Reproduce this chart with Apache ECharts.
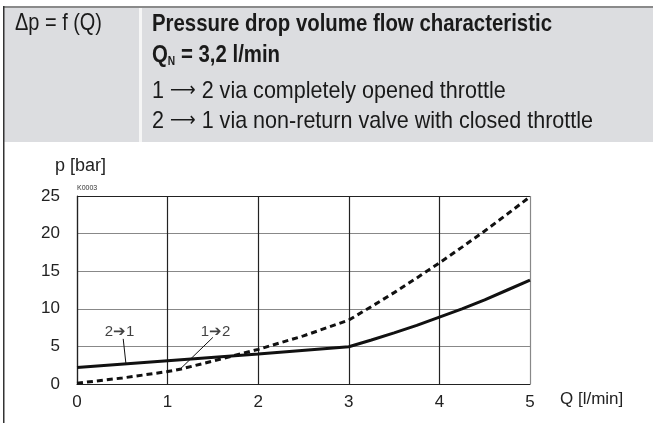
<!DOCTYPE html>
<html>
<head>
<meta charset="utf-8">
<script src="https://cdn.jsdelivr.net/npm/echarts@6/dist/echarts.min.js"></script>
<style>
  html, body { margin: 0; padding: 0; background: #fff; }
  #chart { width: 653px; height: 423px; }
</style>
</head>
<body>
<div id="chart"></div>
<script>
// 2 -> 1 via non-return valve (solid)
var qSolid = [0, 1, 2, 3, 3.25, 3.5, 3.75, 4, 4.25, 4.5, 4.75, 5];
var pSolid = [2.2, 3.1, 4.0, 4.95, 5.85, 6.8, 7.8, 8.9, 10.0, 11.2, 12.5, 13.8];
// 1 -> 2 via opened throttle (dashed)
var qDashed = [0, 0.5, 1, 1.15, 1.5, 2, 2.5, 3, 3.25, 3.5, 3.75, 4, 4.25, 4.5, 4.75, 5];
var pDashed = [0.1, 0.8, 1.65, 2.0, 3.05, 4.6, 6.4, 8.5, 10.3, 12.15, 14.1, 16.1, 18.2, 20.35, 22.6, 24.9];

var xTicks = [0, 1, 2, 3, 4, 5];
var yTicks = [0, 5, 10, 15, 20, 25];

// curve labels and their leader lines
var labelNames = ['2\u27941', '1\u27942'];
var labelPos = [[0.47, 6.9], [1.53, 6.9]];
var leaderFrom = [[0.51, 6.0], [1.50, 6.2]];
var leaderTo = [[0.54, 2.7], [1.14, 2.0]];

var headerLeft = '\u0394p = f (Q)';
var headerTitle = 'Pressure drop volume flow characteristic';
var headerQn = '{b|Q}{sub|N}{b| = 3,2 l/min}';
var header12 = ['1 ', '\u27f6', ' 2 via completely opened throttle'];
var header21 = ['2 ', '\u27f6', ' 1 via non-return valve with closed throttle'];

var arial = '"Liberation Sans", Arial, sans-serif';
var regFont = '24px ' + arial;
var boldFont = 'bold 24px ' + arial;
var arrowFont = '20px "DejaVu Sans", sans-serif';

// the header uses a condensed face; squeeze a normal one to the same width
var ctx = document.createElement('canvas').getContext('2d');
function textWidth(t, font) {
    ctx.font = font;
    return ctx.measureText(t).width;
}
var w21 = textWidth(header21[0], regFont) + textWidth(header21[1], arrowFont) + textWidth(header21[2], regFont);
var regScale = 441 / w21;
var boldScale = 400 / textWidth(headerTitle, boldFont);
var leftScale = 87 / textWidth(headerLeft, regFont);

function arrowLine(parts) {
    return parts[0] + '{a|' + parts[1] + '}' + parts[2];
}

function zip(a, b) {
    var out = [];
    for (var i = 0; i < a.length; i++) out.push([a[i], b[i]]);
    return out;
}

var chart = echarts.init(document.getElementById('chart'));

var series = [
    {
        name: '2-1',
        type: 'line',
        data: zip(qSolid, pSolid),
        showSymbol: false,
        lineStyle: { color: '#111', width: 3 },
        z: 5
    },
    {
        name: '1-2',
        type: 'line',
        data: zip(qDashed, pDashed),
        showSymbol: false,
        lineStyle: { color: '#111', width: 3, type: [6, 4] },
        z: 5
    },
    {
        name: 'labels',
        type: 'scatter',
        symbolSize: 0,
        data: labelPos.map(function (p, i) {
            return { value: p, label: { formatter: labelNames[i] } };
        }),
        label: {
            show: true,
            position: 'inside',
            color: '#111',
            fontFamily: arial,
            fontSize: 15
        },
        z: 6
    }
];

for (var i = 0; i < leaderFrom.length; i++) {
    series.push({
        type: 'line',
        data: [leaderFrom[i], leaderTo[i]],
        showSymbol: false,
        lineStyle: { color: '#111', width: 1 },
        z: 6
    });
}

var arrowRich = {
    a: { font: arrowFont, fill: '#1a1a1a', verticalAlign: 'middle' }
};

var option = {
    animation: false,
    backgroundColor: '#fff',
    grid: { left: 77, right: 123, top: 196, bottom: 39 },
    xAxis: {
        type: 'value',
        min: xTicks[0],
        max: xTicks[xTicks.length - 1],
        interval: 1,
        axisLine: { show: true, lineStyle: { color: '#222', width: 1.2 } },
        axisTick: { show: false },
        axisLabel: { color: '#222', fontFamily: arial, fontSize: 17, margin: 10 },
        splitLine: {
            show: true,
            lineStyle: { color: ['#222', '#222', '#222', '#222', '#222', '#888'], width: 1.2 }
        }
    },
    yAxis: {
        type: 'value',
        min: yTicks[0],
        max: yTicks[yTicks.length - 1],
        interval: 5,
        axisLine: { show: true, lineStyle: { color: '#222', width: 1.2 } },
        axisTick: { show: false },
        axisLabel: { color: '#222', fontFamily: arial, fontSize: 17, margin: 17 },
        splitLine: {
            show: true,
            lineStyle: { color: ['#222', '#888', '#888', '#888', '#888', '#222'], width: 1.2 }
        }
    },
    graphic: [
        // header band
        { type: 'rect', shape: { x: 4, y: 8, width: 649, height: 134 }, style: { fill: '#dcdde0' }, silent: true },
        { type: 'rect', shape: { x: 4, y: 6, width: 649, height: 2 }, style: { fill: '#8a8a8a' }, silent: true },
        { type: 'rect', shape: { x: 139, y: 8, width: 3, height: 134 }, style: { fill: '#f6f6f6' }, silent: true },
        { type: 'rect', shape: { x: 3, y: 6, width: 1.5, height: 417 }, style: { fill: '#333' }, silent: true },
        {
            type: 'text', x: 15, y: 23, scaleX: leftScale,
            style: { text: headerLeft, font: regFont, fill: '#1a1a1a', verticalAlign: 'middle' }
        },
        {
            type: 'text', x: 152, y: 24, scaleX: boldScale,
            style: { text: headerTitle, font: boldFont, fill: '#1a1a1a', verticalAlign: 'middle' }
        },
        {
            type: 'text', x: 152, y: 55, scaleX: boldScale,
            style: {
                text: headerQn,
                fill: '#1a1a1a',
                verticalAlign: 'middle',
                rich: {
                    b: { font: boldFont, fill: '#1a1a1a', lineHeight: 26, verticalAlign: 'middle' },
                    sub: { font: 'bold 12px ' + arial, fill: '#1a1a1a', lineHeight: 26, verticalAlign: 'bottom' }
                }
            }
        },
        {
            type: 'text', x: 152, y: 91, scaleX: regScale,
            style: { text: arrowLine(header12), font: regFont, fill: '#1a1a1a', verticalAlign: 'middle', rich: arrowRich }
        },
        {
            type: 'text', x: 152, y: 121, scaleX: regScale,
            style: { text: arrowLine(header21), font: regFont, fill: '#1a1a1a', verticalAlign: 'middle', rich: arrowRich }
        },
        // axis titles and drawing id
        {
            type: 'text', left: 55, top: 157,
            style: { text: 'p [bar]', font: '18px ' + arial, fill: '#222' }
        },
        {
            type: 'text', left: 77, top: 185,
            style: { text: 'K0003', font: '7px ' + arial, fill: '#333' }
        },
        {
            type: 'text', left: 560, top: 391,
            style: { text: 'Q [l/min]', font: '17px ' + arial, fill: '#222' }
        }
    ],
    series: series
};

chart.setOption(option);
</script>
</body>
</html>
